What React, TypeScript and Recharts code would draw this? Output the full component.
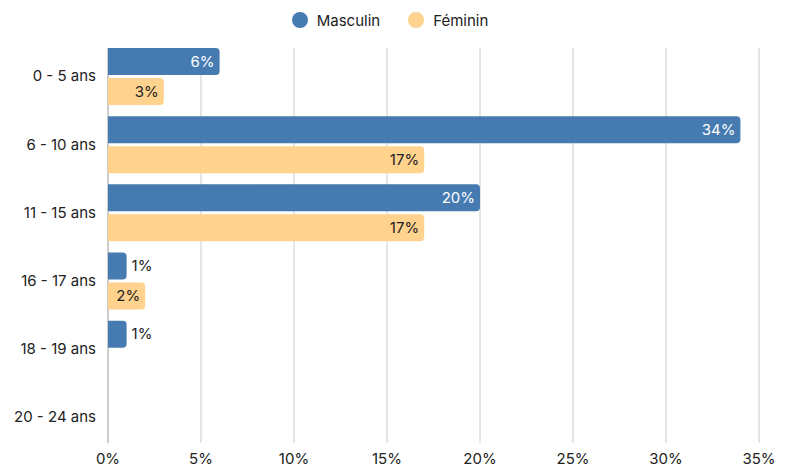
import React from 'react';
import { BarChart, Bar, XAxis, YAxis, CartesianGrid, Legend, LabelList } from 'recharts';

const ageGroups = ['0 - 5 ans', '6 - 10 ans', '11 - 15 ans', '16 - 17 ans', '18 - 19 ans', '20 - 24 ans'];
const masculin = [6, 34, 20, 1, 1, 0];
const feminin = [3, 17, 17, 2, 0, 0];
const xTicks = [0, 5, 10, 15, 20, 25, 30, 35];

const BLUE = '#467bb1';
const ORANGE = '#ffd28e';
const FONT = 'Inter, "Noto Sans", sans-serif';

const data = ageGroups.map((age, i) => ({ age, masculin: masculin[i], feminin: feminin[i] }));

const makeLabel = (insideColor: string) => (props: any) => {
  const { x, y, width, height, value } = props;
  if (!value) return null;
  const inside = width > 30;
  return (
    <text
      x={inside ? x + width - 5 : x + width + 5}
      y={y + height / 2}
      dy="0.35em"
      textAnchor={inside ? 'end' : 'start'}
      fill={inside ? insideColor : '#222'}
      fontSize={15}
      fontFamily={FONT}
    >
      {value}%
    </text>
  );
};

const renderLegend = () => (
  <div style={{ display: 'flex', justifyContent: 'center', gap: 28, fontFamily: FONT, fontSize: 15, color: '#222', height: 28, alignItems: 'center', paddingRight: 8 }}>
    {[{ name: 'Masculin', color: BLUE }, { name: 'Féminin', color: ORANGE }].map((it) => (
      <div key={it.name} style={{ display: 'flex', alignItems: 'center', gap: 9 }}>
        <span style={{ width: 16, height: 16, borderRadius: '50%', background: it.color, display: 'inline-block' }} />
        <span>{it.name}</span>
      </div>
    ))}
  </div>
);

const gridLine = (p: any) => (
  <line
    key={p.key}
    x1={p.x1}
    x2={p.x2}
    y1={p.y1 + 6}
    y2={p.y2 - 8}
    stroke={p.index === 0 ? '#999' : '#ccc'}
    strokeWidth={1}
  />
);

export default function App() {
  return (
    <div style={{ position: 'absolute', left: 0, top: 0, width: 788, height: 467, background: '#fff' }}>
      <BarChart
        width={788}
        height={467}
        data={data}
        layout="vertical"
        margin={{ top: 14, right: 29, bottom: 0, left: 0 }}
        barSize={27}
        barGap={3}
      >
        <CartesianGrid horizontal={false} vertical={gridLine} />
        <XAxis
          type="number"
          domain={[0, 35]}
          ticks={xTicks}
          tickFormatter={(v) => `${v}%`}
          axisLine={false}
          tickLine={false}
          height={16}
          tickSize={0}
          tickMargin={2}
          tick={{ fill: '#222', fontSize: 15, fontFamily: FONT }}
        />
        <YAxis
          type="category"
          dataKey="age"
          width={108}
          axisLine={false}
          tickLine={false}
          tickMargin={6}
          tick={{ fill: '#222', fontSize: 15, fontFamily: FONT }}
        />
        <Legend verticalAlign="top" content={renderLegend} wrapperStyle={{ top: 6, left: 0, width: 788 }} />
        <Bar dataKey="masculin" name="Masculin" fill={BLUE} radius={[0, 4, 4, 0]} isAnimationActive={false}>
          <LabelList dataKey="masculin" content={makeLabel('#fff')} />
        </Bar>
        <Bar dataKey="feminin" name="Féminin" fill={ORANGE} radius={[0, 4, 4, 0]} isAnimationActive={false}>
          <LabelList dataKey="feminin" content={makeLabel('#222')} />
        </Bar>
      </BarChart>
    </div>
  );
}
